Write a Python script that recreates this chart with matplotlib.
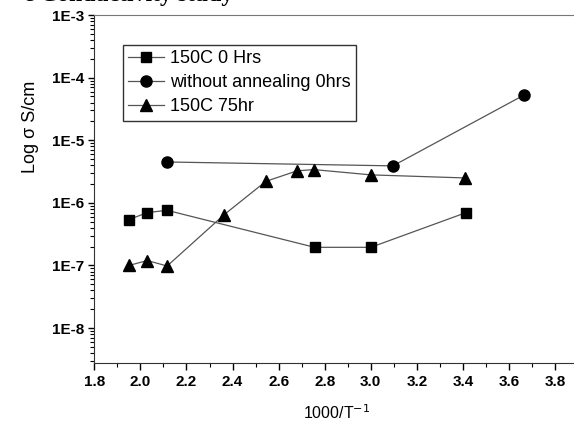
import matplotlib
matplotlib.use('Agg')
import matplotlib.pyplot as plt
from matplotlib.ticker import MultipleLocator, LogLocator, FixedLocator

plt.rcParams['font.family'] = ['Liberation Sans', 'DejaVu Sans']

# 150C 0 Hrs
x_sq = [1.95, 2.03, 2.116, 2.756, 3.0, 3.414]
y_sq = [5.4e-7, 7.0e-7, 7.6e-7, 1.95e-7, 1.95e-7, 7.0e-7]

# without annealing 0hrs
x_ci = [2.116, 3.096, 3.666]
y_ci = [4.5e-6, 3.9e-6, 5.3e-5]

# 150C 75hr
x_tr = [1.95, 2.03, 2.116, 2.364, 2.544, 2.68, 2.753, 3.0, 3.41]
y_tr = [1.0e-7, 1.2e-7, 9.8e-8, 6.5e-7, 2.2e-6, 3.25e-6, 3.4e-6, 2.8e-6, 2.5e-6]

ytick_vals = [1e-8, 1e-7, 1e-6, 1e-5, 1e-4, 1e-3]
ytick_labels = ['1E-8', '1E-7', '1E-6', '1E-5', '1E-4', '1E-3']

fig = plt.figure(figsize=(5.74, 4.25), dpi=100)
ax = fig.add_axes([0.1643, 0.1466, 0.843, 0.818])

lc = '#555555'
ax.plot(x_sq, y_sq, '-', color=lc, lw=0.9, marker='s', ms=7, mfc='black', mec='black',
        label='150C 0 Hrs')
ax.plot(x_ci, y_ci, '-', color=lc, lw=0.9, marker='o', ms=8, mfc='black', mec='black',
        label='without annealing 0hrs')
ax.plot(x_tr, y_tr, '-', color=lc, lw=0.9, marker='^', ms=8, mfc='black', mec='black',
        label='150C 75hr')

ax.set_yscale('log')
ax.set_xlim(1.8, 3.9)
ax.set_ylim(2.8e-9, 1e-3)

ax.xaxis.set_major_locator(MultipleLocator(0.2))
ax.xaxis.set_minor_locator(MultipleLocator(0.1))
ax.yaxis.set_major_locator(FixedLocator(ytick_vals))
ax.set_yticklabels(ytick_labels)
ax.yaxis.set_minor_locator(LogLocator(base=10, subs=range(2, 10)))
ax.yaxis.set_minor_formatter(plt.NullFormatter())

ax.tick_params(which='major', direction='out', length=5, width=1, labelsize=11)
ax.tick_params(which='minor', direction='out', length=3, width=0.8)
ax.tick_params(axis='y', which='major', length=4)
for lab in ax.get_xticklabels() + ax.get_yticklabels():
    lab.set_fontweight('bold')

for s in ax.spines.values():
    s.set_color('#333333')
ax.spines['top'].set_color('#777777')

ax.set_xlabel('1000/T$^{-1}$', fontsize=11.5, labelpad=11)
ax.set_ylabel('Log σ S/cm', fontsize=13)
ax.yaxis.set_label_coords(-0.114, 0.678)

leg = ax.legend(loc='upper left', bbox_to_anchor=(0.059, 0.915), fontsize=13, frameon=True,
                fancybox=False, edgecolor='black', handlelength=2.0, handletextpad=0.3,
                labelspacing=0.4, borderpad=0.3, borderaxespad=0)
leg.get_frame().set_linewidth(1.0)

fig.text(233 / 574, 1 - 1 / 425, 'e Conductivity study', fontsize=17, fontweight='bold',
         family='Liberation Serif', va='baseline', ha='right')

fig.savefig('out.png', dpi=100)
